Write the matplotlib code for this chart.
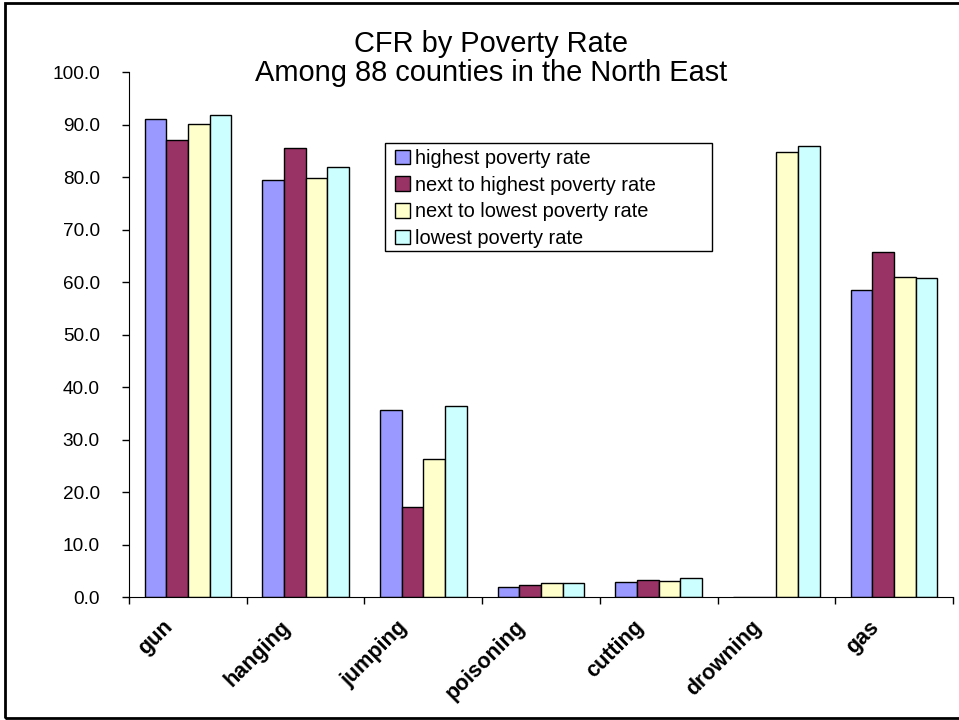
import numpy as np
import matplotlib.pyplot as plt
from matplotlib.patches import Rectangle
import matplotlib.transforms as mtransforms

plt.rcParams['font.family'] = ['Liberation Sans', 'DejaVu Sans']

categories = ['gun', 'hanging', 'jumping', 'poisoning', 'cutting', 'drowning', 'gas']
series_names = ['highest poverty rate', 'next to highest poverty rate',
                'next to lowest poverty rate', 'lowest poverty rate']
highest = [91.0, 79.4, 35.7, 2.0, 2.8, 0.0, 58.5]
next_highest = [87.0, 85.5, 17.1, 2.3, 3.2, 0.0, 65.7]
next_lowest = [90.1, 79.8, 26.3, 2.6, 3.0, 84.8, 61.0]
lowest = [91.8, 81.9, 36.4, 2.6, 3.6, 85.9, 60.8]
colors = ['#9999FF', '#993366', '#FFFFCC', '#CCFFFF']

W, H = 959, 720
fig = plt.figure(figsize=(W / 100, H / 100), dpi=100)
ax = fig.add_axes([129 / W, 1 - 597 / H, (953 - 129) / W, (597 - 72) / H])

x = np.arange(len(categories))
bw = 0.184
for i, (vals, name) in enumerate(zip([highest, next_highest, next_lowest, lowest], series_names)):
    ax.bar(x + (i - 1.5) * bw, vals, bw, color=colors[i], edgecolor='black',
           linewidth=1.0, label=name)

ax.set_xlim(-0.5, len(categories) - 0.5)
ax.set_ylim(0, 100)
ax.set_yticks(np.arange(0, 101, 10))
ax.set_yticklabels([f'{v:.1f}' for v in np.arange(0, 101, 10)], fontsize=13.7)
ax.tick_params(axis='y', length=5, width=1, direction='out', pad=16)

# ticks on category boundaries, labels at centres
ax.set_xticks(np.arange(-0.5, len(categories), 1.0))
ax.set_xticklabels([])
ax.tick_params(axis='x', which='major', length=5, width=1, direction='out')
ax.set_xticks(x, minor=True)
ax.set_xticklabels(categories, minor=True, rotation=45, ha='right', va='top',
                   rotation_mode='anchor', fontsize=15.5, fontweight='bold')
ax.tick_params(axis='x', which='minor', length=0, pad=14)
offset = mtransforms.ScaledTranslation(-0.26, 0, fig.dpi_scale_trans)
for lbl in ax.get_xticklabels(minor=True):
    lbl.set_transform(lbl.get_transform() + offset)

for s in ['top', 'right']:
    ax.spines[s].set_visible(False)

# legend box drawn separately (wide right padding as in the original)
fig.patches.append(Rectangle((385 / W, 1 - 251 / H), (712 - 385) / W, (251 - 143) / H,
                             transform=fig.transFigure, facecolor='white',
                             edgecolor='black', linewidth=1.0, zorder=3))
leg = fig.legend(loc='upper left', bbox_to_anchor=(395 / W, 1 - 149 / H),
                 bbox_transform=fig.transFigure,
                 fontsize=14.4, frameon=False, borderpad=0, labelspacing=0.38,
                 handlelength=0.75, handleheight=0.75, handletextpad=0.25,
                 borderaxespad=0)
leg.set_zorder(4)

fig.text(491 / W, 1 - 44 / H, 'CFR by Poverty Rate', ha='center', va='center', fontsize=20.9)
fig.text(491 / W, 1 - 73 / H, 'Among 88 counties in the North East', ha='center', va='center', fontsize=20.9)

fig.patches.append(Rectangle((5 / W, 2 / H), 1.2, 1 - 5 / H, transform=fig.transFigure,
                             fill=False, edgecolor='black', linewidth=2))

fig.savefig('out.png', dpi=100)
